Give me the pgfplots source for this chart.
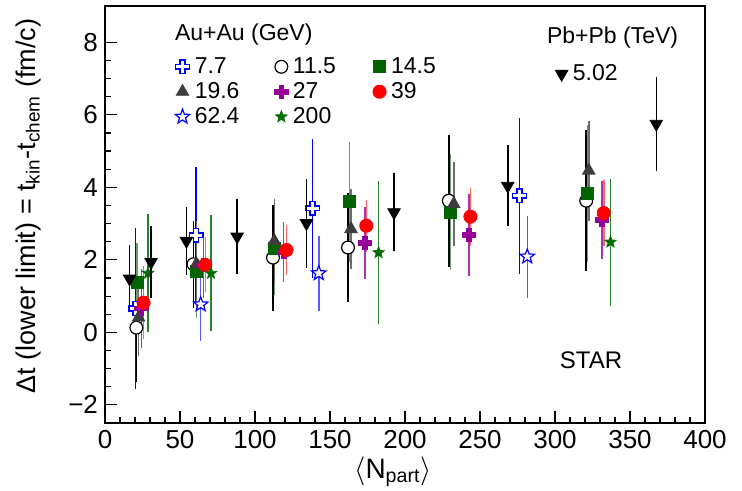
\documentclass[border=0pt]{standalone}
\usepackage{pgfplots}
\pgfplotsset{compat=1.18}
\usepackage{fontspec}
\setmainfont{Liberation Sans}

\definecolor{c77}{RGB}{0,0,255}
\definecolor{c145}{RGB}{0,100,0}
\definecolor{c196}{RGB}{60,60,60}
\definecolor{c27}{RGB}{150,0,150}
\definecolor{c39}{RGB}{255,0,0}
\definecolor{c200}{RGB}{0,110,0}

\pgfdeclareplotmark{ocross}{%
\pgfpathmoveto{\pgfqpoint{-0.35\pgfplotmarksize}{\pgfplotmarksize}}%
\pgfpathlineto{\pgfqpoint{0.35\pgfplotmarksize}{\pgfplotmarksize}}%
\pgfpathlineto{\pgfqpoint{0.35\pgfplotmarksize}{0.35\pgfplotmarksize}}%
\pgfpathlineto{\pgfqpoint{\pgfplotmarksize}{0.35\pgfplotmarksize}}%
\pgfpathlineto{\pgfqpoint{\pgfplotmarksize}{-0.35\pgfplotmarksize}}%
\pgfpathlineto{\pgfqpoint{0.35\pgfplotmarksize}{-0.35\pgfplotmarksize}}%
\pgfpathlineto{\pgfqpoint{0.35\pgfplotmarksize}{-\pgfplotmarksize}}%
\pgfpathlineto{\pgfqpoint{-0.35\pgfplotmarksize}{-\pgfplotmarksize}}%
\pgfpathlineto{\pgfqpoint{-0.35\pgfplotmarksize}{-0.35\pgfplotmarksize}}%
\pgfpathlineto{\pgfqpoint{-\pgfplotmarksize}{-0.35\pgfplotmarksize}}%
\pgfpathlineto{\pgfqpoint{-\pgfplotmarksize}{0.35\pgfplotmarksize}}%
\pgfpathlineto{\pgfqpoint{-0.35\pgfplotmarksize}{0.35\pgfplotmarksize}}%
\pgfpathclose
\pgfusepathqfillstroke}

\pgfdeclareplotmark{fivestar}{%
\pgfpathmoveto{\pgfpointpolar{90}{\pgfplotmarksize}}%
\pgfpathlineto{\pgfpointpolar{126}{0.42\pgfplotmarksize}}%
\pgfpathlineto{\pgfpointpolar{162}{\pgfplotmarksize}}%
\pgfpathlineto{\pgfpointpolar{198}{0.42\pgfplotmarksize}}%
\pgfpathlineto{\pgfpointpolar{234}{\pgfplotmarksize}}%
\pgfpathlineto{\pgfpointpolar{270}{0.42\pgfplotmarksize}}%
\pgfpathlineto{\pgfpointpolar{306}{\pgfplotmarksize}}%
\pgfpathlineto{\pgfpointpolar{342}{0.42\pgfplotmarksize}}%
\pgfpathlineto{\pgfpointpolar{18}{\pgfplotmarksize}}%
\pgfpathlineto{\pgfpointpolar{54}{0.42\pgfplotmarksize}}%
\pgfpathclose
\pgfusepathqfillstroke}

\pgfplotstableread{
x y e
20.2 0.66 2.23
60.7 2.68 1.87
138.3 3.42 1.92
276.3 3.77 2.15
}\tabA
\pgfplotstableread{
x y e
20.9 0.13 1.5
59.0 1.88 1.2
112.0 2.06 1.46
162.0 2.34 1.5
229.2 3.63 1.82
320.8 3.63 1.95
}\tabB
\pgfplotstableread{
x y e
21.3 1.37 1.1
60.9 1.69 1.3
112.9 2.32 1.3
163.1 3.6 1.65
230.3 3.32 1.6
321.8 3.83 1.9
}\tabC
\pgfplotstableread{
x y e
22.4 0.41 1.06
60.9 1.88 1.2
112.9 2.52 1.15
164.0 2.85 1.1
232.5 3.54 1.15
322.5 4.46 1.38
}\tabD
\pgfplotstableread{
x y e
24.2 0.66 1.08
65.6 1.85 0.9
119.1 2.22 0.83
173.2 2.46 1.0
242.5 2.68 1.13
331.2 3.1 1.08
}\tabE
\pgfplotstableread{
x y e
25.7 0.82 1.0
66.9 1.86 0.76
121.0 2.27 0.7
174.2 2.94 0.72
243.6 3.19 0.8
332.5 3.29 0.9
}\tabF
\pgfplotstableread{
x y e
63.8 0.77 1.0
142.5 1.63 1.03
281.5 2.09 1.13
}\tabG
\pgfplotstableread{
x y e
28.7 1.63 1.63
70.7 1.63 1.6
182.4 2.2 1.98
337.0 2.49 1.75
}\tabH
\pgfplotstableread{
x y e
16.4 1.48 0.92
30.7 1.94 0.98
54.3 2.52 0.95
88.1 2.64 1.04
134.3 3.01 1.23
192.7 3.31 1.08
268.5 4.04 1.12
367.5 5.75 1.3
}\tabP

\pgfplotsset{myax/.style={width=300pt,height=208.5pt,scale only axis,
  xmin=0,xmax=400,ymin=-2.5,ymax=9}}

\begin{document}
\begin{tikzpicture}
\begin{axis}[myax, name=ax,
  xtick={0,50,...,400}, minor x tick num=4,
  ytick={-2,0,2,4,6,8}, yticklabels={−2,0,2,4,6,8}, minor y tick num=3,
  tick pos=left, tick align=inside,
  major tick length=6pt, minor tick length=3pt,
  tick style={black, line width=0.6pt},
  axis line style={line width=0.8pt},
  ticklabel style={font=\fontsize{13}{13}\selectfont},
  /pgf/number format/assume math mode=true,
  xlabel={$\langle$N\textsubscript{part}$\rangle$},
  xlabel style={at={(axis description cs:0.48,-0.132)}, anchor=base, font=\fontsize{14}{14}\selectfont},
  ylabel={Δt (lower limit) = t\textsubscript{kin}-t\textsubscript{chem}  (fm/c)},
  ylabel style={at={(axis description cs:-0.128,0.52)}, anchor=center, font=\fontsize{13.5}{13.5}\selectfont},
  legend columns=3,
  legend cell align=left,
  legend image code/.code={\draw plot coordinates {(0pt,0pt)};},
  legend style={draw=none, fill=none, at={(axis description cs:0.1165,0.885)}, anchor=north west,
    font=\fontsize{11.5}{11.5}\selectfont, column sep=1pt, row sep=0pt, inner sep=0pt,
    nodes={inner sep=1.5pt}},
  error bars/y dir=both, error bars/y explicit, error bars/error mark=none,
]
\addplot[c77, only marks, mark=ocross, mark size=3.4pt, line width=0.7pt, mark options={fill=white, solid},
  error bars/error bar style={c77, line width=0.75pt}]
  table[x=x,y=y,y error=e]{\tabA};
\addlegendentry{\makebox[37.5pt][l]{7.7}}
\addplot[black, only marks, mark=*, mark size=3.2pt, line width=0.6pt, mark options={fill=white},
  error bars/error bar style={black, line width=0.75pt}]
  table[x=x,y=y,y error=e]{\tabB};
\addlegendentry{\makebox[37.5pt][l]{11.5}}
\addplot[c145, only marks, mark=square*, mark size=3pt, line width=0.4pt,
  error bars/error bar style={c145!60!white, line width=0.75pt}]
  table[x=x,y=y,y error=e]{\tabC};
\addlegendentry{14.5}
\addplot[c196, only marks, mark=triangle*, mark size=3.6pt, line width=0.4pt,
  error bars/error bar style={c196!75!white, line width=0.75pt}]
  table[x=x,y=y,y error=e]{\tabD};
\addlegendentry{\makebox[37.5pt][l]{19.6}}
\addplot[c27, only marks, mark=ocross, mark size=3.3pt, line width=0.4pt, mark options={fill=c27},
  error bars/error bar style={c27!80!white, line width=0.75pt}]
  table[x=x,y=y,y error=e]{\tabE};
\addlegendentry{\makebox[37.5pt][l]{27}}
\addplot[c39, only marks, mark=*, mark size=3.3pt, line width=0.4pt,
  error bars/error bar style={c39!60!white, line width=0.75pt}]
  table[x=x,y=y,y error=e]{\tabF};
\addlegendentry{39}
\addplot[c77, only marks, mark=fivestar, mark size=3.8pt, line width=0.6pt, mark options={fill=white},
  error bars/error bar style={c77!65!white, line width=0.75pt}]
  table[x=x,y=y,y error=e]{\tabG};
\addlegendentry{\makebox[37.5pt][l]{62.4}}
\addplot[c200, only marks, mark=fivestar, mark size=3pt, line width=0.4pt, mark options={fill=c200},
  error bars/error bar style={c200!85!white, line width=0.75pt}]
  table[x=x,y=y,y error=e]{\tabH};
\addlegendentry{\makebox[37.5pt][l]{200}}
\node[anchor=west, font=\fontsize{11.5}{11.5}\selectfont] at (axis description cs:0.105,0.932) {Au+Au (GeV)};
\node[anchor=west, font=\fontsize{11.5}{11.5}\selectfont] at (axis description cs:0.725,0.925) {Pb+Pb (TeV)};
\node[font=\fontsize{12}{12}\selectfont] at (axis description cs:0.81,0.151) {STAR};
\end{axis}
\begin{axis}[myax, at={(ax.south west)}, anchor=south west, hide axis,
  legend cell align=left,
  legend image code/.code={\draw plot coordinates {(0pt,0pt)};},
  legend style={draw=none, fill=none, at={(axis description cs:0.75,0.868)}, anchor=north west,
    font=\fontsize{11.5}{11.5}\selectfont, inner sep=0pt, column sep=1pt, nodes={inner sep=1.5pt}},
  error bars/y dir=both, error bars/y explicit, error bars/error mark=none,
]
\addplot[black, only marks, mark=triangle*, mark size=3.6pt, mark options={rotate=180},
  error bars/error bar style={black, line width=0.75pt}]
  table[x=x,y=y,y error=e]{\tabP};
\addlegendentry{5.02}
\end{axis}
\pgfresetboundingbox
\path[use as bounding box] ([xshift=-52.5pt,yshift=-33.5pt]ax.south west) rectangle ([xshift=18.5pt,yshift=3pt]ax.north east);
\end{tikzpicture}
\end{document}
